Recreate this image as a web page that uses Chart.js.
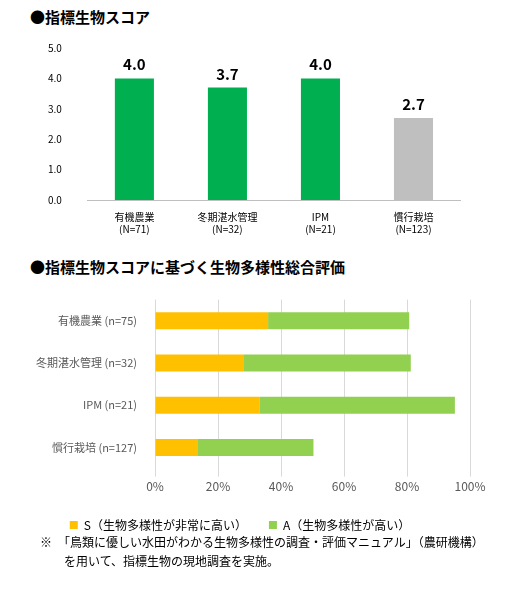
<!DOCTYPE html><html><head><meta charset="utf-8">
<script src="https://cdn.jsdelivr.net/npm/chart.js@4"></script>
<style>body{margin:0;background:#fff;font-family:"Noto Sans CJK JP";width:528px;height:609px;position:relative;overflow:hidden}
.t{position:absolute;left:30px;font-weight:bold;font-size:15px;color:#000}
#c1w{position:absolute;left:30px;top:24px;width:440px;height:214px}
#c2w{position:absolute;left:10px;top:283px;width:480px;height:258px}
.n{position:absolute;left:40px;top:532px;font-size:12px;line-height:19px;color:#000}</style></head><body>
<div class="t" style="top:6px">●指標生物スコア</div>
<div class="t" style="top:256px">●指標生物スコアに基づく生物多様性総合評価</div>
<div id="c1w"><canvas id="c1"></canvas></div>
<div id="c2w"><canvas id="c2"></canvas></div>
<div class="n">※　「鳥類に優しい水田がわかる生物多様性の調査・評価マニュアル」（農研機構）<br>　　を用いて、指標生物の現地調査を実施。</div>
<script>
const scoreCats=[["有機農業","(N=71)"],["冬期湛水管理","(N=32)"],["IPM","(N=21)"],["慣行栽培","(N=123)"]];
const scoreVals=[4.0,3.7,4.0,2.7];
const evalCats=["有機農業 (n=75)","冬期湛水管理 (n=32)","IPM (n=21)","慣行栽培 (n=127)"];
const sVals=[35.9,28.0,33.3,13.4];
const aVals=[44.8,53.2,61.9,36.9];
const F="'Noto Sans CJK JP'";
const lbl={id:'lbl',afterDatasetsDraw(c){const x=c.ctx;x.save();x.font="bold 15px "+F;x.fillStyle="#000";x.textAlign="center";
c.getDatasetMeta(0).data.forEach((b,i)=>x.fillText(scoreVals[i].toFixed(1),b.x,b.y-8));x.restore();}};
new Chart(document.getElementById('c1'),{type:'bar',data:{labels:scoreCats,datasets:[{data:scoreVals,backgroundColor:['#00b050','#00b050','#00b050','#bfbfbf'],barPercentage:0.42,categoryPercentage:1}]},
options:{responsive:true,maintainAspectRatio:false,animation:false,layout:{padding:{top:14,right:10}},plugins:{legend:{display:false},tooltip:{enabled:false}},
scales:{y:{min:0,max:5,ticks:{stepSize:1,callback:v=>v.toFixed(1),font:{size:10,family:F},color:'#000',padding:18},grid:{display:false},border:{display:false}},
x:{ticks:{font:{size:10,family:F},color:'#000'},grid:{display:false},border:{color:'#bfbfbf'}}}},plugins:[lbl]});
new Chart(document.getElementById('c2'),{type:'bar',data:{labels:evalCats,datasets:[
{label:'S（生物多様性が非常に高い）',data:sVals,backgroundColor:'#ffc000',barPercentage:0.4,categoryPercentage:1},
{label:'A（生物多様性が高い）',data:aVals,backgroundColor:'#92d050',barPercentage:0.4,categoryPercentage:1}]},
options:{indexAxis:'y',responsive:true,maintainAspectRatio:false,animation:false,layout:{padding:{right:20}},
plugins:{legend:{position:'bottom',labels:{boxWidth:8,boxHeight:8,padding:22,font:{size:12,family:F},color:'#000'}},tooltip:{enabled:false}},
scales:{x:{stacked:true,min:0,max:100,ticks:{stepSize:20,callback:v=>v+'%',font:{size:12,family:F},color:'#595959'},grid:{color:'#d9d9d9'},border:{display:false}},
y:{stacked:true,afterFit:a=>{a.width=145},ticks:{font:{size:11,family:F},color:'#595959',padding:10},grid:{display:false},border:{display:false}}}}});
</script></body></html>
